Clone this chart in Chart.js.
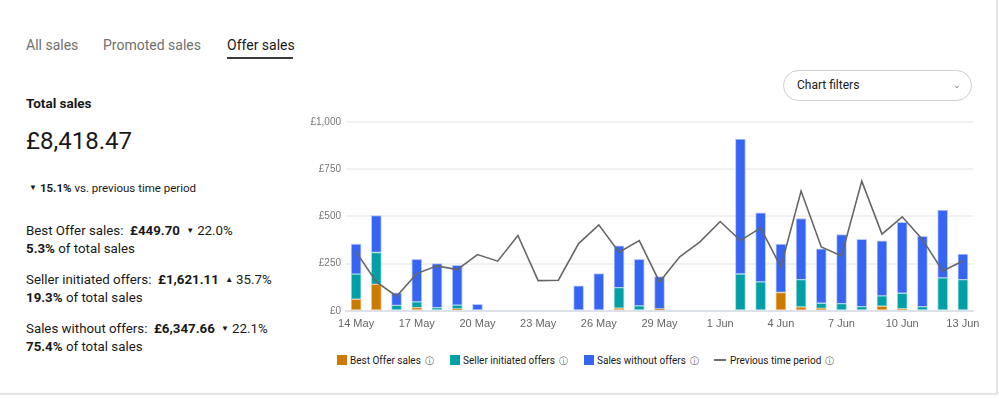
<!DOCTYPE html>
<html>
<head>
<meta charset="utf-8">
<script src="https://cdn.jsdelivr.net/npm/chart.js"></script>
<style>
  html, body { margin: 0; padding: 0; background: #fff; }
  body { width: 999px; height: 399px; position: relative; overflow: hidden; font-family: Roboto, "Noto Sans", sans-serif; color: #191919; }
  .frame { position: absolute; left: -2px; top: -2px; width: 1000px; height: 397px; border-right: 2px solid #e5e5e5; border-bottom: 2px solid #e5e5e5; box-sizing: border-box; }
  .tab { position: absolute; top: 37px; font-size: 14px; color: #707070; }
  .tab.active { color: #191919; }
  .tab-line { position: absolute; left: 227px; top: 57px; width: 66px; height: 2px; background: #3a3a3a; }
  .txt { position: absolute; left: 26px; white-space: nowrap; }
  .title { top: 95px; font-size: 13.5px; font-weight: 700; }
  .total { top: 127px; font-size: 24px; font-weight: 400; }
  .change { top: 181px; font-size: 11.5px; }
  .row { font-size: 13.3px; }
  .row b { font-weight: 700; }
  .caret { font-size: 8px; display: inline-block; transform: translateY(-2px); margin: 0 3px; }
  .filters { position: absolute; left: 783px; top: 70px; width: 189px; height: 31px; border: 1px solid #cfcfcf; border-radius: 16px; box-sizing: border-box; font-size: 12px; line-height: 29px; padding-left: 13px; color: #191919; }
  .filters span { position: absolute; right: 10px; top: 0; color: #777; font-size: 9px; }
  #chartBox { position: absolute; left: 296px; top: 110px; width: 683px; height: 228px; }
  .legend { position: absolute; top: 355px; left: 337px; font-size: 10px; color: #191919; white-space: nowrap; }
  .legend .item { position: absolute; top: 0; }
  .legend .sw { display: inline-block; width: 10px; height: 10px; vertical-align: -1px; margin-right: 3px; }
  .legend .ln { display: inline-block; width: 12px; height: 2px; background: #707070; vertical-align: 3px; margin-right: 4px; }
  .legend .i { font-size: 9px; color: #555; margin-left: 4px; }
</style>
</head>
<body>
<div class="frame"></div>
<div class="tab" style="left:26px">All sales</div>
<div class="tab" style="left:103px">Promoted sales</div>
<div class="tab active" style="left:227px">Offer sales</div>
<div class="tab-line"></div>

<div class="txt title">Total sales</div>
<div class="txt total">£8,418.47</div>
<div class="txt change"><span class="caret">▼</span><b>15.1%</b> vs. previous time period</div>

<div class="txt row" style="top:223px">Best Offer sales:&nbsp; <b>£449.70</b> <span class="caret">▼</span>22.0%</div>
<div class="txt row" style="top:241px"><b>5.3%</b> of total sales</div>
<div class="txt row" style="top:272px">Seller initiated offers:&nbsp; <b>£1,621.11</b> <span class="caret">▲</span>35.7%</div>
<div class="txt row" style="top:290px"><b>19.3%</b> of total sales</div>
<div class="txt row" style="top:321px">Sales without offers:&nbsp; <b>£6,347.66</b> <span class="caret">▼</span>22.1%</div>
<div class="txt row" style="top:339px"><b>75.4%</b> of total sales</div>

<div class="filters">Chart filters<span>&#8964;</span></div>

<div id="chartBox"><canvas id="salesChart"></canvas></div>

<div class="legend">
  <div class="item" style="left:0"><span class="sw" style="background:#cc7a00"></span>Best Offer sales<span class="i">ⓘ</span></div>
  <div class="item" style="left:113px"><span class="sw" style="background:#00a0a6"></span>Seller initiated offers<span class="i">ⓘ</span></div>
  <div class="item" style="left:247px"><span class="sw" style="background:#3665f3"></span>Sales without offers<span class="i">ⓘ</span></div>
  <div class="item" style="left:377px"><span class="ln"></span>Previous time period<span class="i">ⓘ</span></div>
</div>

<script>
const dayLabels = ['14 May', '15 May', '16 May', '17 May', '18 May', '19 May', '20 May', '21 May', '22 May', '23 May',
    '24 May', '25 May', '26 May', '27 May', '28 May', '29 May', '30 May', '31 May', '1 Jun', '2 Jun',
    '3 Jun', '4 Jun', '5 Jun', '6 Jun', '7 Jun', '8 Jun', '9 Jun', '10 Jun', '11 Jun', '12 Jun', '13 Jun'];

const bestOfferSales = [61, 140, null, 17, null, 10, null, null, null, null,
    null, null, null, 14, null, 10, null, null, null, null,
    null, 97, 20, 13, null, null, 24, 11, null, null, null];

const sellerInitiatedOffers = [133, 169, 29, 30, 17, 20, null, null, null, null,
    null, null, null, 109, 26, null, null, null, null, 195,
    153, null, 145, 27, 38, 22, 55, 82, 22, 174, 165];

const salesWithoutOffers = [159, 196, 66, 226, 233, 211, 34, null, null, null,
    null, 132, 197, 221, 247, 171, null, null, null, 715,
    366, 256, 324, 288, 366, 357, 291, 375, 373, 359, 136];

const previousPeriod = [312, 153, 77, 197, 238, 218, 298, 263, 399, 160,
    162, 356, 455, 310, 372, 153, 286, 365, 473, 372,
    439, 232, 634, 338, 291, 687, 406, 498, 378, 211, 264];

const yTicks = [0, 250, 500, 750, 1000];

function barSet(label, data, color, edge) {
    return {
        type: 'bar',
        label: label,
        data: data,
        backgroundColor: color,
        borderColor: edge,
        borderWidth: 1,
        borderSkipped: false,
        barThickness: 10,
        stack: 'sales',
        order: 1
    };
}

const ctx = document.getElementById('salesChart').getContext('2d');
new Chart(ctx, {
    data: {
        labels: dayLabels,
        datasets: [
            barSet('Best Offer sales', bestOfferSales, '#cc7a00', '#f0c48a'),
            barSet('Seller initiated offers', sellerInitiatedOffers, '#00a0a6', '#9fdde0'),
            barSet('Sales without offers', salesWithoutOffers, '#3665f3', '#b9c9fb'),
            {
                type: 'line',
                label: 'Previous time period',
                data: previousPeriod,
                borderColor: '#666666',
                borderWidth: 1.6,
                pointRadius: 0,
                tension: 0,
                stack: 'prev',
                order: 0
            }
        ]
    },
    options: {
        responsive: true,
        maintainAspectRatio: false,
        animation: false,
        layout: { padding: { top: 12, right: 6, bottom: 0, left: 0 } },
        plugins: {
            legend: { display: false },
            tooltip: { enabled: false }
        },
        scales: {
            x: {
                stacked: true,
                offset: true,
                // let the last date label hang past the plot edge, as in the original
                afterFit: function(scale) {
                    scale.paddingLeft = 0;
                    scale.paddingRight = 0;
                },
                grid: { display: false, drawTicks: false },
                border: { display: true, color: '#dde1ea', width: 2 },
                ticks: {
                    autoSkip: false,
                    maxRotation: 0,
                    padding: 7,
                    color: '#666',
                    font: { family: 'Liberation Sans, Arial, sans-serif', size: 11 },
                    callback: function(value, index) {
                        return index % 3 === 0 ? dayLabels[index] : '';
                    }
                }
            },
            y: {
                stacked: true,
                min: 0,
                max: 1000,
                afterFit: function(scale) { scale.width = 50; },
                afterBuildTicks: function(scale) {
                    scale.ticks = yTicks.map(v => ({ value: v }));
                },
                grid: { color: '#f1f1f1', lineWidth: 2, drawTicks: false },
                border: { display: false },
                ticks: {
                    padding: 5,
                    color: '#777',
                    font: { family: 'Liberation Sans, Arial, sans-serif', size: 10 },
                    callback: function(value) {
                        return '£' + value.toLocaleString('en-GB');
                    }
                }
            }
        }
    }
});
</script>
</body>
</html>
